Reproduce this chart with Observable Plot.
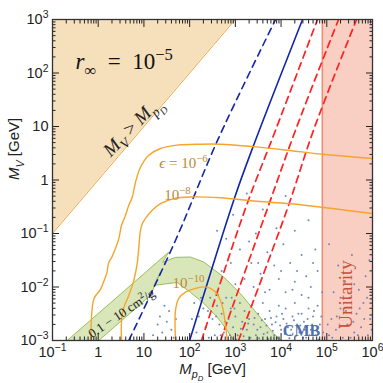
<!DOCTYPE html>
<html><head><meta charset="utf-8">
<script src="https://cdn.jsdelivr.net/npm/d3@7"></script>
<script src="https://cdn.jsdelivr.net/npm/@observablehq/plot@0.6"></script>
<style>body{margin:0;background:#fff;}</style>
</head><body><div id="chart"></div>
<script>
// ---- data (log10 units where noted) ----
const xMajor = [0.1, 1, 10, 100, 1e3, 1e4, 1e5, 1e6];
const yMajor = [1e-3, 1e-2, 1e-1, 1, 10, 100, 1e3];
const diagonal = [[0.1, 0.1], [1000, 1000]];          // M_V = M_pD
const unitarityMin = 8e4;                              // GeV
// lines, [log10 M_pD, log10 M_V]
const blueDashedLog = [[0.67,-3],[1.69,-1.13],[2.61,0.74],[3.88,3]];
const blueSolidLog  = [[2.0,-3],[2.98,-0.34],[3.40,0.65],[4.47,3]];
const red1Log = [[2.26,-3],[3.222,-0.529],[3.879,0.931],[4.797,3]];
const red2Log = [[2.675,-3],[3.704,-0.529],[4.316,0.931],[5.257,3]];
const red3Log = [[3.069,-3],[4.141,-0.529],[4.710,0.931],[5.651,3]];
const eps6Log = [[-0.153,-3],[-0.153,-2.68],[-0.092,-2.213],[0.05,-2.045],[0.138,-1.858],[0.192,-1.727],[0.225,-1.558],[0.306,-1.427],[0.378,-1.277],[0.45,-1.1],[0.51,-0.847],[0.597,-0.66],[0.669,-0.473],[0.744,-0.323],[0.816,-0.042],[0.925,0.239],[1.107,0.463],[1.363,0.589],[1.728,0.651],[2.238,0.669],[2.675,0.669],[3.397,0.623],[4.141,0.557],[4.907,0.482],[6.0,0.402]];
const eps8Log = [[0.51,-3],[0.51,-2.625],[0.56,-2.382],[0.669,-2.157],[0.779,-1.876],[0.853,-1.558],[0.888,-1.259],[0.925,-0.94],[0.969,-0.809],[1.035,-0.716],[1.181,-0.566],[1.363,-0.441],[1.654,-0.347],[2.019,-0.317],[2.675,-0.332],[3.397,-0.392],[4.207,-0.444],[5.082,-0.529],[6.0,-0.628]];
const eps10Log = [[1.691,-3],[1.691,-2.438],[1.763,-2.213],[1.91,-2.095],[2.128,-2.026],[2.347,-1.998],[2.529,-2.064],[2.675,-2.251],[2.748,-2.5],[2.785,-2.719],[2.822,-3]];
const sidmBandLog = [[-0.678,-3],[1.544,-1.347],[1.406,-1.539],[1.691,-1.446],[2.019,-1.44],[2.31,-1.534],[2.748,-1.815],[3.113,-2.125],[3.478,-2.5],[3.841,-2.874],[4.01,-3],[2.966,-3],[2.822,-2.812],[2.603,-2.563],[2.31,-2.307],[2.019,-2.101],[1.728,-1.914],[1.216,-1.97],[1.363,-1.721],[1.144,-2.157],[0.013,-3],[-0.678,-3]];
const cmbLog = [[3.25,-0.25],[3.6,-0.55],[4.1,-0.3],[3.9,-0.9],[4.3,-0.95],[2.95,-0.65],[3.45,-1.0],[4.6,-0.75],[3.7,-1.35],[4.05,-1.2],[4.45,-1.4],[3.1,-1.3],[2.8,-1.1],[3.35,-1.55],[3.85,-1.6],[4.2,-1.55],[4.55,-1.8],[4.75,-1.3],[2.6,-0.95],[2.9,-1.55],
[3.55,-1.75],[3.95,-1.85],[4.3,-1.9],[4.65,-2.0],[4.8,-1.7],[3.2,-1.85],[3.75,-2.05],[4.1,-2.1],[4.45,-2.15],[4.9,-2.1],[3.4,-2.0],[2.7,-1.7],[3.0,-1.95],
[2.1,-2.3],[2.2,-2.55],[2.3,-2.4],[2.35,-2.75],[2.45,-2.2],[2.5,-2.6],[2.55,-2.9],[2.6,-2.35],[2.65,-2.7],[2.7,-2.5],[2.75,-2.85],[2.8,-2.2],[2.85,-2.6],[2.9,-2.4],[2.95,-2.75],[3.0,-2.55],[3.05,-2.9],[3.1,-2.3],[3.15,-2.65],[3.2,-2.45],[3.25,-2.8],[3.3,-2.6],[3.35,-2.35],[3.4,-2.7],[3.45,-2.9],[3.5,-2.5],[3.55,-2.75],[3.6,-2.3],[3.65,-2.6],[3.7,-2.85],[3.75,-2.45],[3.8,-2.7],[3.85,-2.9],[3.9,-2.55],[3.95,-2.35],[4.0,-2.8],[4.05,-2.6],[4.1,-2.4],[4.15,-2.75],[4.2,-2.9],[4.25,-2.55],[4.3,-2.3],[4.35,-2.7],[4.4,-2.85],[4.45,-2.5],[4.5,-2.65],[4.55,-2.95],[4.6,-2.4],[4.65,-2.8],[4.7,-2.55],[4.75,-2.9],[4.8,-2.35],[4.85,-2.7],
[5.05,-2.9],[5.1,-2.6],[5.2,-2.8],[5.3,-2.4],[5.35,-2.95],[5.45,-2.7],[5.5,-2.2],[5.6,-2.85],[5.65,-2.5],[5.75,-2.75],[5.8,-2.3],[5.9,-2.9],[5.95,-2.6],[5.15,-2.1],[5.4,-1.9],[5.7,-2.05],[5.25,-1.6],[5.85,-1.8],[5.55,-1.4],[5.05,-1.2],
[1.3,-2.7],[1.35,-2.55],[1.4,-2.85],[1.5,-2.65],[1.55,-2.45],[1.6,-2.8],[1.65,-2.95],[1.2,-2.9],[1.45,-2.35],[1.7,-2.6],
[3.02,-2.98],[3.12,-2.78],[3.18,-2.92],[3.28,-2.68],[3.33,-2.95],[3.42,-2.58],[3.48,-2.8],[3.52,-2.96],[3.58,-2.62],[3.62,-2.88],[3.68,-2.72],[3.72,-2.97],[3.78,-2.58],[3.82,-2.82],[3.88,-2.66],[3.92,-2.95],[3.98,-2.72],[4.02,-2.5],[4.08,-2.88],[4.12,-2.68],[4.18,-2.96],[4.22,-2.8],[4.28,-2.62],[4.32,-2.92],[4.38,-2.5],[4.42,-2.72],[4.48,-2.95],[4.52,-2.8],[4.58,-2.6],[4.62,-2.9],[4.68,-2.7],[4.72,-2.45],[4.78,-2.82],[4.82,-2.98],[4.88,-2.55],[4.92,-2.85],
[2.05,-2.6],[2.15,-2.85],[2.25,-2.2],[2.4,-2.45],[2.42,-2.95],[2.58,-2.55],[2.62,-2.15],[2.68,-2.9],[2.72,-2.3],[2.78,-2.65],[2.88,-2.9],[2.92,-2.2],[2.98,-2.4],
[3.5,-1.55],[4.0,-1.7],[4.35,-1.7],[3.3,-1.15],[4.7,-1.55],[3.65,-2.1],[4.25,-2.05],[4.6,-2.2],
[5.02,-2.7],[5.12,-2.95],[5.22,-2.55],[5.28,-2.75],[5.42,-2.45],[5.52,-2.95],[5.58,-2.65],[5.68,-2.9],[5.72,-2.4],[5.82,-2.6],[5.88,-2.2],[5.98,-2.8],[5.3,-2.2],[5.6,-1.95],[5.93,-1.5]];
// labels: [text, log10 x, log10 y]
const rInfLabel = ["$r$_{∞}\u2002=\u200210^{−5}", -0.497, 2.204];
const diagLabel = ["$M$_{$V$} > $M$_{$p$_{$D$}}", 0.74, 1.0];
const epsLabels = [["$ϵ$ = 10^{−6}", 1.866, 0.314], ["10^{−8}", 1.735, -0.285], ["10^{−10}", 1.975, -1.933]];
const bandLabel = ["0.1 − 10 cm^{2}/g", 0.51, -2.494];
const cmbLabel = ["CMB", 4.447, -2.813];
const unitLabel = ["Unitarity", 5.41, -2.139];
const xTitle = "$M$_{$p$_{$D$}} [GeV]";
const yTitle = "$M$_{$V$} [GeV]";

// ---- helpers ----
const P = a => a.map(([lx, ly]) => [10 ** lx, 10 ** ly]);
const fmt = v => { const e = Math.round(Math.log10(v)); return e === 0 ? "1" : e === 1 ? "10" : `10^{${e < 0 ? "−" : ""}${Math.abs(e)}}`; };
const minor = (lo, hi) => { const r = []; for (let k = lo; k < hi; k++) for (let m = 2; m <= 9; m++) r.push(m * 10 ** k); return r; };
const xMinor = minor(-1, 6), yMinor = minor(-3, 3);
const serif = "'Liberation Serif', 'DejaVu Serif', serif";
const txt = (lab, o) => Plot.text([lab], {x: d => 10 ** d[1], y: d => 10 ** d[2], text: d => d[0], fontFamily: serif, ...o});
const ln = (a, o) => Plot.line(P(a), {x: d => d[0], y: d => d[1], clip: true, ...o});

const chart = Plot.plot({
  width: 383, height: 383,
  marginLeft: 52, marginRight: 11, marginTop: 19, marginBottom: 43,
  style: {fontFamily: "'Liberation Sans', Arial, sans-serif", fontSize: "14.5px", background: "#fff", color: "#222"},
  x: {type: "log", domain: [0.1, 1e6]},
  y: {type: "log", domain: [1e-3, 1e3]},
  marks: [
    Plot.areaY(diagonal, {x: d => d[0], y1: d => d[1], y2: 1000, fill: "#f6dfbb"}),
    Plot.line(diagonal, {x: d => d[0], y: d => d[1], stroke: "#f2a23a", strokeWidth: 1}),
    Plot.rect([0], {x1: unitarityMin, x2: 1e6, y1: 1e-3, y2: 1e3, fill: "#f9cfc4"}),
    Plot.ruleX([unitarityMin], {stroke: "#f08a72", strokeWidth: 1.5}),
    Plot.line(P(sidmBandLog), {x: d => d[0], y: d => d[1], fill: "#d9e6ba", stroke: "#9cbf58", strokeWidth: 1, curve: "linear"}),
    Plot.dot(P(cmbLog), {x: d => d[0], y: d => d[1], r: 1, fill: "#6a88c0", stroke: null}),
    ln(blueDashedLog, {stroke: "#1226a8", strokeWidth: 1.6, strokeDasharray: "7,5", curve: "catmull-rom"}),
    ln(blueSolidLog, {stroke: "#1226a8", strokeWidth: 1.6, curve: "catmull-rom"}),
    ln(red1Log, {stroke: "#ff2222", strokeWidth: 1.7, strokeDasharray: "7,5", curve: "catmull-rom"}),
    ln(red2Log, {stroke: "#ff2222", strokeWidth: 1.7, strokeDasharray: "7,5", curve: "catmull-rom"}),
    ln(red3Log, {stroke: "#ff2222", strokeWidth: 1.7, strokeDasharray: "7,5", curve: "catmull-rom"}),
    ln(eps6Log, {stroke: "#f7a52a", strokeWidth: 1.4, curve: "catmull-rom"}),
    ln(eps8Log, {stroke: "#f7a52a", strokeWidth: 1.4, curve: "catmull-rom"}),
    ln(eps10Log, {stroke: "#f7a52a", strokeWidth: 1.4, curve: "catmull-rom"}),
    txt(rInfLabel, {fontSize: 23, textAnchor: "start", fill: "#111"}),
    txt(diagLabel, {fontSize: 19, rotate: -46, fill: "#222"}),
    ...epsLabels.map(l => txt(l, {fontSize: 15, fill: "#bd8a35"})),
    txt(bandLabel, {fontSize: 13, rotate: -34, fill: "#222"}),
    txt(cmbLabel, {fontSize: 16, fontWeight: "bold", fill: "#4f6fa8"}),
    txt(unitLabel, {fontSize: 19, rotate: -90, fill: "#c8513a"}),
    Plot.text([xTitle], {frameAnchor: "bottom", dy: 33, text: d => d, fontSize: 15}),
    Plot.text([yTitle], {frameAnchor: "left", dx: -38, rotate: -90, text: d => d, fontSize: 15}),
    Plot.axisX(xMajor, {anchor: "bottom", tickSize: 0, tickPadding: 6, tickFormat: fmt, label: null}),
    Plot.axisY(yMajor, {anchor: "left", tickSize: 0, tickPadding: 4, tickFormat: fmt, label: null}),
    Plot.axisX(xMajor, {anchor: "bottom", tickSize: -7, fill: "none", label: null}),
    Plot.axisX(xMinor, {anchor: "bottom", tickSize: -3.5, fill: "none", label: null}),
    Plot.axisX(xMajor, {anchor: "top", tickSize: -7, fill: "none", label: null}),
    Plot.axisX(xMinor, {anchor: "top", tickSize: -3.5, fill: "none", label: null}),
    Plot.axisY(yMajor, {anchor: "left", tickSize: -7, fill: "none", label: null}),
    Plot.axisY(yMinor, {anchor: "left", tickSize: -3.5, fill: "none", label: null}),
    Plot.axisY(yMajor, {anchor: "right", tickSize: -7, fill: "none", label: null}),
    Plot.axisY(yMinor, {anchor: "right", tickSize: -3.5, fill: "none", label: null}),
    Plot.frame({stroke: "#333", strokeWidth: 1.3})
  ]
});
document.getElementById("chart").appendChild(chart);

// ---- turn $..$ (italic), ^{..} and _{..} into tspans ----
function parse(s) {
  const segs = []; let i = 0;
  function rec(shift, scale, italic, inGroup) {
    let buf = "";
    const flush = () => { if (buf) { segs.push({t: buf, shift, scale, italic}); buf = ""; } };
    while (i < s.length) {
      const c = s[i];
      if (c === "}" && inGroup) { flush(); i++; return; }
      if (c === "$") { flush(); italic = !italic; i++; continue; }
      if ((c === "^" || c === "_") && s[i + 1] === "{") {
        flush(); i += 2;
        rec(c === "^" ? shift - 0.42 * scale : shift + 0.28 * scale, scale * 0.72, italic, true);
        continue;
      }
      buf += c; i++;
    }
    flush();
  }
  rec(0, 1, false, false);
  return segs;
}
chart.querySelectorAll("text").forEach(t => {
  const s = t.textContent;
  if (!/\$|\^\{|_\{/.test(s)) return;
  const base = parseFloat(getComputedStyle(t).fontSize) || 14;
  const segs = parse(s);
  t.textContent = "";
  let cur = 0;
  for (const seg of segs) {
    const ts = document.createElementNS("http://www.w3.org/2000/svg", "tspan");
    ts.textContent = seg.t;
    if (seg.italic) ts.setAttribute("font-style", "italic");
    if (seg.scale !== 1) ts.setAttribute("font-size", (base * seg.scale).toFixed(2));
    const d = (seg.shift - cur) * base;
    if (Math.abs(d) > 1e-6) ts.setAttribute("dy", d.toFixed(2));
    cur = seg.shift;
    t.appendChild(ts);
  }
});
</script>
</body></html>
